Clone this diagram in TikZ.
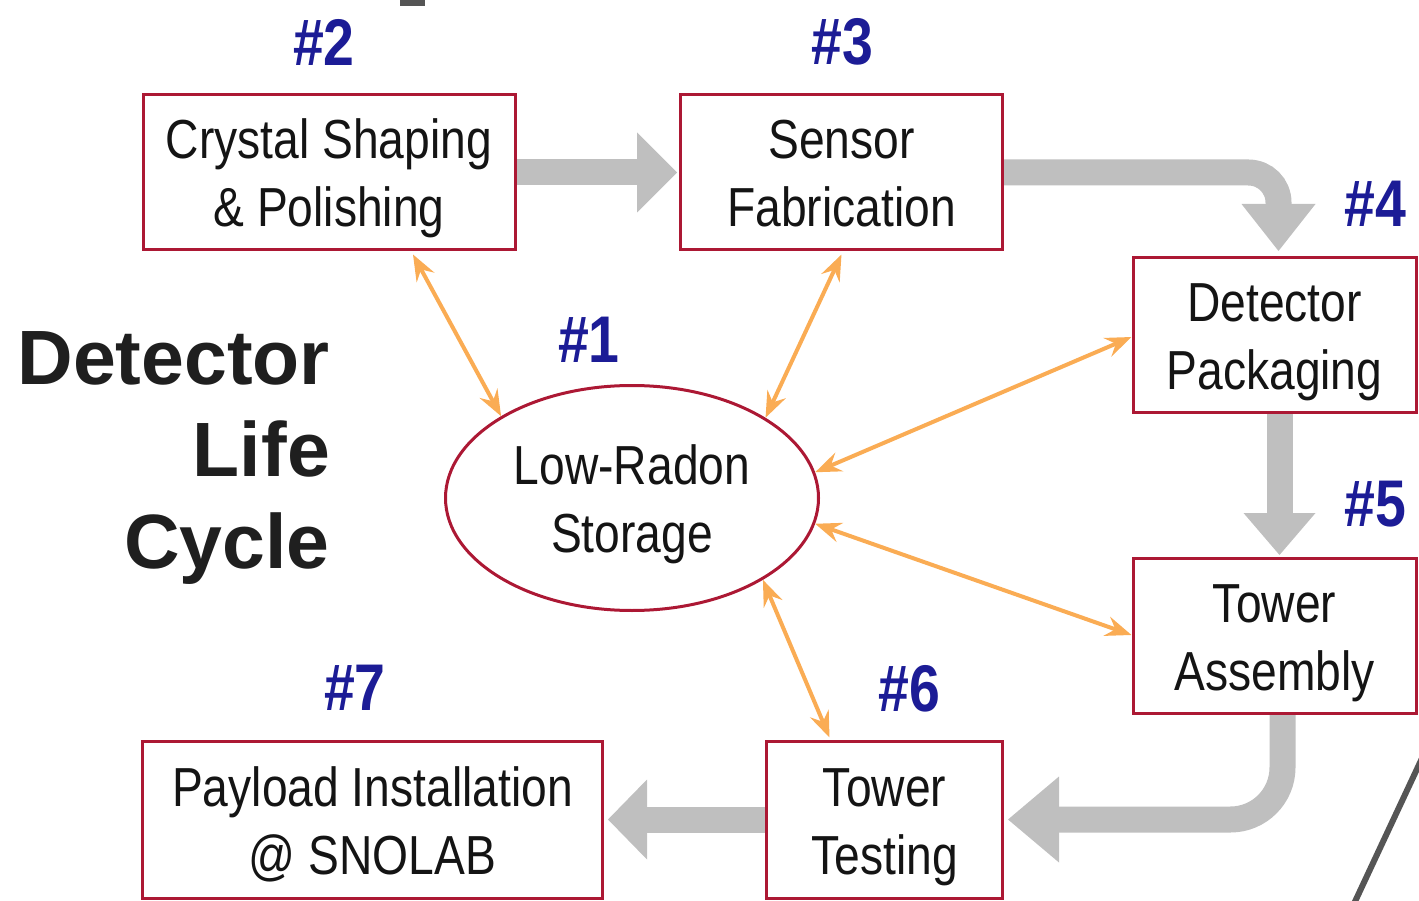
\documentclass[tikz,border=0pt]{standalone}
\usepackage{fontspec}
\setmainfont{Liberation Sans}
\newfontfamily\narrowfont[FakeStretch=0.84]{Liberation Sans}
\usetikzlibrary{arrows.meta,shapes.geometric,backgrounds}
\definecolor{boxred}{RGB}{172,24,52}
\definecolor{stepblue}{RGB}{28,28,150}
\definecolor{flowgray}{RGB}{191,191,191}
\definecolor{linkorange}{RGB}{250,172,84}
\definecolor{inkgray}{RGB}{85,85,85}
% fixed line box so every two-line label sits at the same height
\newcommand{\rowstrut}{\rule[-13.5pt]{0pt}{68pt}}
\begin{document}
\begin{tikzpicture}[x=1pt,y=-1pt,
  stage/.style={draw=boxred, line width=3pt, rectangle, inner sep=0pt,
    minimum height=155pt, align=center, text=black!92,
    font=\narrowfont\fontsize{55}{68}\selectfont},
  store/.style={stage, ellipse, minimum width=373pt, minimum height=225pt},
  tag/.style={text=stepblue, inner sep=0pt,
    font=\narrowfont\bfseries\fontsize{66}{66}\selectfont},
  link/.style={draw=linkorange, line width=4pt,
    {Stealth[length=26pt 0 0,width=20pt 0 0,inset=9pt 0 0]}-{Stealth[length=26pt 0 0,width=20pt 0 0,inset=9pt 0 0]}},
  flow/.style={draw=flowgray, line width=26pt},
  flowhead/.style={fill=flowgray}
]
\useasboundingbox (0,0) rectangle (1419,901);

% process stages
\node[stage, minimum width=372pt] (s2) at (329,172.5) {\rowstrut Crystal Shaping\\\rowstrut\& Polishing};
\node[stage, minimum width=322pt] (s3) at (841.5,172.5) {\rowstrut Sensor\\\rowstrut Fabrication};
\node[stage, minimum width=283pt] (s4) at (1274.5,335) {\rowstrut Detector\\\rowstrut Packaging};
\node[stage, minimum width=283pt] (s5) at (1274.5,636) {\rowstrut Tower\\\rowstrut Assembly};
\node[stage, minimum width=236pt, minimum height=157pt] (s6) at (884.5,819.5) {\rowstrut Tower\\\rowstrut Testing};
\node[stage, minimum width=460pt, minimum height=157pt] (s7) at (372.5,819.5) {\rowstrut Payload Installation\\\rowstrut @ SNOLAB};
\node[store] (st) at (632,498) {\rowstrut Low-Radon\\\rowstrut Storage};

% step numbers
\node[tag] (t1) at (589,340) {\#1};
\node[tag] (t2) at (324,42) {\#2};
\node[tag] (t3) at (842,42) {\#3};
\node[tag] (t4) at (1375,204) {\#4};
\node[tag] (t5) at (1375,504) {\#5};
\node[tag] (t6) at (909,689) {\#6};
\node[tag] (t7) at (355,688) {\#7};

% title
\node[font=\bfseries\fontsize{77}{92}\selectfont, align=right, anchor=east,
  inner sep=0pt, text=black!88] (title) at (330,458) {Detector\\Life\\Cycle};

% main flow between stages
\begin{scope}[on background layer]
  \coordinate (h1) at ([xshift=-2pt]s3.west);
  \draw[flow] (s2.east) -- ([xshift=-39pt]h1);
  \fill[flowhead] (h1) -- ++(-40,-40) -- ++(0,80) -- cycle;

  \coordinate (h2) at ([xshift=4pt,yshift=5pt]s4.north);
  \draw[flow, rounded corners=30pt] (s3.east) -- (s3.east -| h2) -- ([yshift=46pt]h2);
  \fill[flowhead] (h2) -- ++(-37,-47) -- ++(74,0) -- cycle;

  \coordinate (h3) at ([xshift=5pt,yshift=2pt]s5.north);
  \draw[flow] (s4.south -| h3) -- ([yshift=41pt]h3);
  \fill[flowhead] (h3) -- ++(-36,-42) -- ++(72,0) -- cycle;

  \coordinate (h4) at ([xshift=4pt]s6.east);
  \coordinate (c4) at ([xshift=8pt]s5.south);
  \draw[flow, rounded corners=52pt] (c4) -- (c4 |- h4) -- ([xshift=50pt]h4);
  \fill[flowhead] (h4) -- ++(51,-43) -- ++(0,86) -- cycle;

  \coordinate (h5) at ([xshift=4pt]s7.east);
  \draw[flow] (s6.west) -- ([xshift=38pt]h5);
  \fill[flowhead] (h5) -- ++(39,-40) -- ++(0,80) -- cycle;
\end{scope}

% storage exchanges
\draw[link] ([xshift=84pt,yshift=-3pt]s2.south) -- (st.148);
\draw[link] ([yshift=-3pt]s3.south) -- (st.31);
\draw[link] ([yshift=-2pt]s4.west) -- (st.8);
\draw[link] (st.-8) -- ([yshift=1pt]s5.west);
\draw[link] (st.-32) -- ([xshift=-55pt,yshift=2pt]s6.north);

% edge marks
\begin{scope}
  \clip (0,0) rectangle (1419,901);
  \fill[inkgray] (400,-2) rectangle (425,6);
  \draw[inkgray, line width=6pt] (1352,908) -- (1424,754);
\end{scope}
\end{tikzpicture}
\end{document}
